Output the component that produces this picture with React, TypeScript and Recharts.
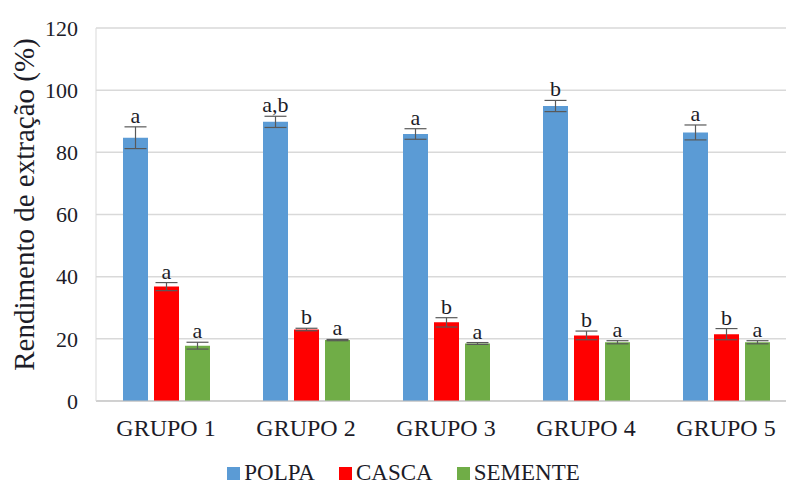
import { BarChart, Bar, XAxis, YAxis, CartesianGrid, ErrorBar, LabelList, Legend } from 'recharts'

const grupos = ['GRUPO 1', 'GRUPO 2', 'GRUPO 3', 'GRUPO 4', 'GRUPO 5']

const polpa = [84.7, 89.8, 85.9, 94.9, 86.4]
const polpaErr = [3.5, 1.8, 1.7, 1.8, 2.4]
const polpaLetras = ['a', 'a,b', 'a', 'b', 'a']

const casca = [36.8, 23.0, 25.3, 21.1, 21.5]
const cascaErr = [1.3, 0.4, 1.5, 1.4, 1.8]
const cascaLetras = ['a', 'b', 'b', 'b', 'b']

const semente = [17.8, 19.6, 18.5, 18.9, 18.9]
const sementeErr = [1.1, 0.2, 0.3, 0.5, 0.5]
const sementeLetras = ['a', 'a', 'a', 'a', 'a']

const yTicks = [0, 20, 40, 60, 80, 100, 120]

const series = [
    { key: 'polpa', name: 'POLPA', color: '#5b9bd5', letras: polpaLetras, err: polpaErr },
    { key: 'casca', name: 'CASCA', color: '#ff0000', letras: cascaLetras, err: cascaErr },
    { key: 'semente', name: 'SEMENTE', color: '#70ad47', letras: sementeLetras, err: sementeErr },
]

const data = grupos.map((g, i) => ({
    grupo: g,
    polpa: polpa[i],
    polpaErr: polpaErr[i],
    casca: casca[i],
    cascaErr: cascaErr[i],
    semente: semente[i],
    sementeErr: sementeErr[i],
}))

const font = '"Liberation Serif", "Times New Roman", serif'
const textColor = '#1c1c28'

// letra de significancia acima da barra de erro
const letterLabel = (letras: string[], err: number[]) => (props: any) => {
    const { x, y, width, height, value, index } = props
    const errPx = value ? (err[index] * height) / value : 0
    return (
        <text
            x={x + width / 2}
            y={y - errPx - 4}
            textAnchor='middle'
            fontFamily={font}
            fontSize={22}
            fill={textColor}
        >
            {letras[index]}
        </text>
    )
}

const LegendContent = () => (
    <div
        style={{
            display: 'flex',
            justifyContent: 'center',
            paddingLeft: 11,
            paddingTop: 8,
            fontFamily: font,
            fontSize: 23,
            lineHeight: '16px',
            height: 16,
            color: textColor,
        }}
    >
        {series.map((s, i) => (
            <div
                key={s.key}
                style={{ display: 'flex', alignItems: 'center', marginRight: i < series.length - 1 ? 24 : 0 }}
            >
                <span style={{ width: 13, height: 13, background: s.color, display: 'inline-block', marginRight: 4 }} />
                <span>{s.name}</span>
            </div>
        ))}
    </div>
)

export default function App() {
    return (
        <div style={{ position: 'absolute', left: 0, top: 0, width: 786, height: 485, overflow: 'hidden', background: '#fff' }}>
            <BarChart
                width={796}
                height={485}
                data={data}
                margin={{ top: 28, right: 0, bottom: 0, left: 0 }}
                barSize={25}
                barGap={6}
            >
                <CartesianGrid vertical={false} stroke='#d9d9d9' strokeWidth={1.5} />
                <XAxis
                    dataKey='grupo'
                    height={56}
                    tickLine={false}
                    tickSize={0}
                    tickMargin={18}
                    axisLine={{ stroke: '#bfbfbf' }}
                    tick={{ fontFamily: font, fontSize: 24, fill: textColor }}
                />
                <YAxis
                    width={96}
                    domain={[0, 120]}
                    ticks={yTicks}
                    tickLine={false}
                    tickSize={0}
                    tickMargin={18}
                    axisLine={{ stroke: '#d9d9d9' }}
                    tick={{ fontFamily: font, fontSize: 22, fill: textColor }}
                    label={{
                        value: 'Rendimento de extração (%)',
                        angle: -90,
                        position: 'insideLeft',
                        dx: 19,
                        dy: -10,
                        style: { fontFamily: font, fontSize: 29, fill: textColor, textAnchor: 'middle' },
                    }}
                />
                <Legend verticalAlign='bottom' content={LegendContent} wrapperStyle={{ height: 28 }} />
                {series.map((s) => (
                    <Bar key={s.key} dataKey={s.key} name={s.name} fill={s.color} isAnimationActive={false}>
                        <ErrorBar dataKey={`${s.key}Err`} width={11} stroke='#595959' strokeWidth={1.2} />
                        <LabelList dataKey={s.key} content={letterLabel(s.letras, s.err)} />
                    </Bar>
                ))}
            </BarChart>
        </div>
    )
}
